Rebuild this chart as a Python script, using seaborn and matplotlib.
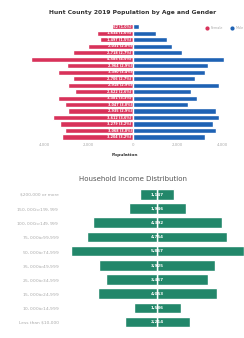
import matplotlib
matplotlib.use("Agg")
import matplotlib.pyplot as plt
import numpy as np
import pandas as pd
import seaborn as sns
from matplotlib.lines import Line2D

# population pyramid, oldest group on top
ages = ["85+", "80-84", "75-79", "70-74", "65-69", "60-64", "55-59", "50-54", "45-49",
        "40-44", "35-39", "30-34", "25-29", "20-24", "15-19", "10-14", "5-9", "0-4"]
female = [962, 1634, 1497, 2031, 2718, 4585, 2964, 3390, 2706,
          2918, 2622, 3381, 3047, 2935, 3612, 3279, 3068, 3204]
male = [281, 1043, 1528, 1762, 2214, 4107, 3381, 3243, 2790,
        3875, 2617, 2884, 2476, 3738, 3869, 3602, 3745, 3241]

# household income, highest bracket on top
income_cats = ["$200,000 or more", "$150,000 to $199,999", "$100,000 to $149,999",
               "$75,000 to $99,999", "$50,000 to $74,999", "$35,000 to $49,999",
               "$25,000 to $34,999", "$15,000 to $24,999", "$10,000 to $14,999",
               "Less than $10,000"]
households = [1147, 1946, 4392, 4754, 5867, 3925, 3467, 4053, 1586, 2214]

RED = "#d8325a"
BLUE = "#1e62b4"
GREEN = "#22876a"


def plot():
    sns.set_theme(style="white")
    plt.rcParams["font.family"] = ["DejaVu Sans"]
    fig = plt.figure(figsize=(2.44, 3.38), dpi=100)

    # ---- top: pyramid ----
    ax1 = fig.add_axes([0.041, 0.585, 0.943, 0.346])
    df = pd.DataFrame({"age": ages, "female": female, "male": male})
    sns.barplot(x=-df["female"], y=df["age"], color=RED, orient="h",
                width=0.78, ax=ax1, saturation=1)
    sns.barplot(x=df["male"], y=df["age"], color=BLUE, orient="h",
                width=0.78, ax=ax1, saturation=1)
    total = sum(female) + sum(male)
    for i, v in enumerate(female):
        ax1.text(-60, i, f"{v:,} ({v / total * 100:.1f}%)", ha="right", va="center",
                 fontsize=2.4, color="white", fontweight="bold")
    ax1.set_xlim(-5535, 4815)
    ticks = [-4000, -2000, 0, 2000, 4000]
    ax1.set_xticks(ticks)
    ax1.set_xticklabels([f"{abs(t):,}" for t in ticks], fontsize=2.8, color="#aaaaaa")
    ax1.tick_params(axis="x", length=0, pad=2)
    ax1.set_yticks([])
    ax1.set_ylabel("")
    ax1.set_xlabel("Population", fontsize=3.2, fontweight="bold", color="#333333", labelpad=4)
    sns.despine(ax=ax1, left=True, bottom=True)
    handles = [Line2D([], [], marker="o", ls="", color=RED, markersize=2),
               Line2D([], [], marker="o", ls="", color=BLUE, markersize=2)]
    ax1.legend(handles, ["Female", "Male"], loc="upper right", bbox_to_anchor=(1.03, 1.0),
               ncol=2, fontsize=2.4, frameon=False, handletextpad=0.2, columnspacing=1.5,
               labelcolor="#aaaaaa")
    fig.text(0.545, 0.962, "Hunt County 2019 Population by Age and Gender",
             ha="center", va="center", fontsize=4.3, fontweight="bold", color="#333333")

    # ---- bottom: income funnel ----
    ax2 = fig.add_axes([0.254, 0.026, 0.746, 0.42])
    half = [h / 2 for h in households]
    sns.barplot(x=half, y=income_cats, color=GREEN, orient="h", width=0.74,
                ax=ax2, saturation=1)
    sns.barplot(x=[-h for h in half], y=income_cats, color=GREEN, orient="h",
                width=0.74, ax=ax2, saturation=1)
    for i, v in enumerate(households):
        ax2.text(0, i, f"{v:,}", ha="center", va="center", fontsize=3,
                 color="white", fontweight="bold")
    ax2.set_xlim(-3234, 2950)
    ax2.set_xticks([])
    ax2.set_xlabel("")
    ax2.set_ylabel("")
    ax2.tick_params(axis="y", length=0, pad=2, labelsize=3.2, labelcolor="#aaaaaa")
    sns.despine(ax=ax2, left=True, bottom=True)
    fig.text(0.545, 0.47, "Household Income Distribution", ha="center", va="center",
             fontsize=5, color="#555555")

    fig.savefig("out.png", dpi=100, facecolor="white")


def main():
    plot()


if __name__ == "__main__":
    main()
